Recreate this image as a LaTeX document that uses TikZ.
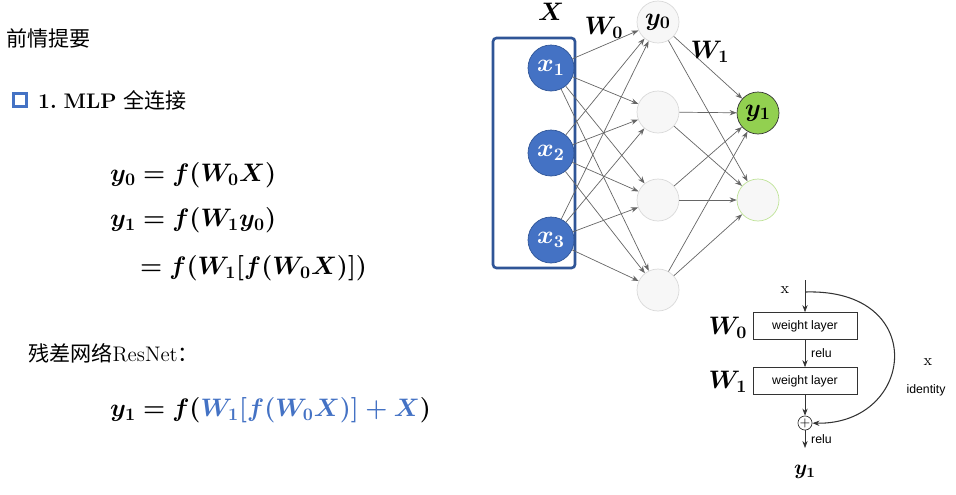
\documentclass[tikz,border=0pt]{standalone}
\usepackage{amsmath,amssymb,bm}
\usepackage{fontspec}
\newfontfamily\cjk{Noto Sans CJK SC}
\newfontfamily\armo{Liberation Sans}
\usetikzlibrary{arrows.meta, positioning}
\definecolor{nodeblue}{RGB}{68,114,196}
\definecolor{framedark}{RGB}{47,85,151}
\definecolor{outgreen}{RGB}{146,208,80}
\begin{document}
\begin{tikzpicture}[x=0.02cm,y=-0.02cm]
        % Define styles
        \tikzset{inp/.style={circle, minimum size=0.92cm, inner sep=0pt, draw=framedark, fill=nodeblue, text=white, font=\Large},
                 hid/.style={circle, minimum size=0.84cm, inner sep=0pt, draw=black!15, fill=black!3, font=\Large},
                 edge/.style={draw=black!60, line width=0.4pt, -{Stealth[length=4pt]}},
                 wlayer/.style={rectangle, draw=black!80, minimum width=2.08cm, minimum height=0.54cm, font=\armo\scriptsize},
                 eq/.style={anchor=west, font=\Large}}
        \useasboundingbox (0,0) rectangle (956,494);

        % Left texts
        \node[anchor=west, font=\cjk\large] (title) at (0,38) {前情提要};
        \node[draw=nodeblue, line width=1.5pt, minimum size=0.26cm, inner sep=0pt] (bullet) at (20,100) {};
        \node[anchor=west, font=\large] (mlp) at (32,100) {$\bm{1.}$ \textbf{MLP} {\cjk 全连接}};
        \node[eq] (e1) at (104,175) {$\bm{y_0 = f(W_0X)}$};
        \node[eq] (e2) at (104,220) {$\bm{y_1 = f(W_1y_0)}$};
        \node[eq] (e3) at (134,268) {$\bm{= f(W_1[f(W_0X)])}$};
        \node[anchor=west, font=\large] (res) at (22,353) {{\cjk 残差网络}ResNet{\cjk ：}};
        \node[eq] (e4) at (104,410) {$\bm{y_1 = f(}\bm{\textcolor{nodeblue}{W_1[f(W_0X)] + X}}\bm{)}$};

        % Network
        \draw[framedark, line width=1.5pt, rounded corners=2pt] (493,38) rectangle (575,268);
        \node[inp] (x1) at (551,68) {$\bm{x_1}$};
        \node[inp] (x2) at (551,153) {$\bm{x_2}$};
        \node[inp] (x3) at (551,240) {$\bm{x_3}$};
        \node[hid] (h1) at (658,22) {$\bm{y_0}$};
        \node[hid] (h2) at (658,112) {};
        \node[hid] (h3) at (658,200) {};
        \node[hid] (h4) at (658,290) {};
        \node[hid, draw=black!80, fill=outgreen] (o1) at (758,113) {$\bm{y_1}$};
        \node[hid, draw=outgreen!60] (o2) at (758,200) {};
        \foreach \a in {x1,x2,x3}
          \foreach \b in {h1,h2,h3,h4}
            \draw[edge] (\a) -- (\b);
        \foreach \a in {h1,h2,h3,h4}
          \foreach \b in {o1,o2}
            \draw[edge] (\a) -- (\b);
        \node[font=\Large] (bigx) at (551,12) {$\bm{X}$};
        \node[font=\Large] (w0) at (604,28) {$\bm{W_0}$};
        \node[font=\Large] (w1) at (710,52) {$\bm{W_1}$};

        % Residual block
        \coordinate (top) at (805,280);
        \node[font=\small] (xin) at (785,290) {x};
        \node[wlayer] (l1) at (805,326) {weight layer};
        \node[wlayer] (l2) at (805,381) {weight layer};
        \node[circle, draw=black!80, inner sep=0pt, minimum size=0.26cm, font=\scriptsize] (plus) at (805,423) {$+$};
        \coordinate (bot) at (805,448);
        \node[font=\Large] (w0b) at (728,328) {$\bm{W_0}$};
        \node[font=\Large] (w1b) at (728,382) {$\bm{W_1}$};
        \node[font=\large] (y1b) at (805,472) {$\bm{y_1}$};
        \draw[edge, draw=black!80] (top) -- (l1);
        \draw[edge, draw=black!80] (l1) -- node[right, font=\armo\scriptsize] {relu} (l2);
        \draw[edge, draw=black!80] (l2) -- (plus);
        \draw[edge, draw=black!80] (plus) -- node[right, font=\armo\scriptsize] {relu} (bot);
        \draw[edge, draw=black!80, line width=0.6pt] (805,292) .. controls (930,288) and (915,425) .. (plus);
        \node[font=\small] (xid) at (928,362) {x};
        \node[font=\armo\scriptsize] (ident) at (926,390) {identity};
\end{tikzpicture}
\end{document}
